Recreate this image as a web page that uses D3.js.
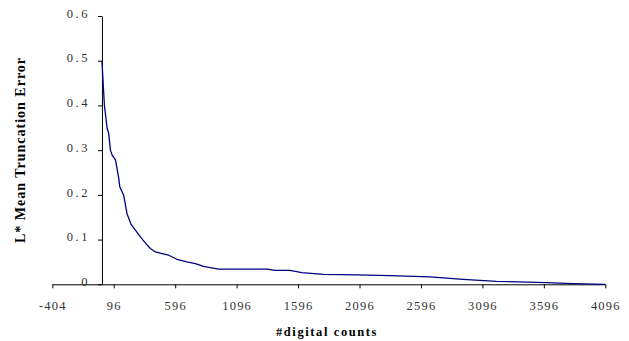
<!DOCTYPE html>
<html>
<head>
<meta charset="utf-8">
<script src="https://cdn.jsdelivr.net/npm/d3@7"></script>
<style>
  body { margin: 0; background: #fff; }
  svg { display: block; }
  svg text { font-family: "Liberation Serif", "Times New Roman", serif; }
</style>
</head>
<body>
<svg id="chart" width="629" height="341"></svg>
<script>
// digital counts (x) and L* mean truncation error (y)
const counts = [0, 20, 42, 55, 69, 83, 110, 137, 145, 177, 204, 237, 272, 313, 353, 394, 435, 489, 543, 611, 692, 760, 827, 949, 1206, 1342, 1409, 1531, 1626, 1802, 2073, 2344, 2669, 2939, 3210, 3617, 3833, 4096];
const errors = [0.5, 0.4, 0.349, 0.337, 0.30, 0.289, 0.278, 0.237, 0.218, 0.199, 0.158, 0.134, 0.121, 0.106, 0.0925, 0.080, 0.0724, 0.0687, 0.065, 0.056, 0.050, 0.046, 0.040, 0.034, 0.034, 0.034, 0.031, 0.031, 0.026, 0.022, 0.021, 0.0195, 0.0164, 0.0112, 0.0067, 0.0037, 0.0015, 0];

const xTicks = [-404, 96, 596, 1096, 1596, 2096, 2596, 3096, 3596, 4096];
const yTicks = [0, 0.1, 0.2, 0.3, 0.4, 0.5, 0.6];

const svg = d3.select("#chart");

const x = d3.scaleLinear().domain([-404, 4096]).range([52.3, 605.3]);
const y = d3.scaleLinear().domain([0, 0.6]).range([284.3, 16]);

// x axis (crosses at y = 0)
const xAxis = svg.append("g")
    .attr("transform", `translate(0,${y(0)})`)
    .call(d3.axisBottom(x).tickValues(xTicks).tickSize(4).tickSizeOuter(0).tickPadding(13)
        .tickFormat(d => d));
xAxis.attr("font-family", null);
xAxis.select(".domain").attr("stroke", "#000");
xAxis.selectAll(".tick line").attr("stroke", "#000");
xAxis.selectAll("text")
    .style("font-size", "12.5px")
    .style("letter-spacing", "1.2px")
    .attr("fill", "#333");

// y axis (crosses at x = 0)
const yAxis = svg.append("g")
    .attr("transform", `translate(${x(0)},0)`)
    .call(d3.axisLeft(y).tickValues(yTicks).tickSize(4).tickSizeOuter(0).tickPadding(8)
        .tickFormat(d => d === 0 ? "0" : d3.format(".1f")(d)));
yAxis.attr("font-family", null);
yAxis.select(".domain").attr("stroke", "#000");
yAxis.selectAll(".tick line").attr("stroke", "#000");
yAxis.selectAll("text")
    .style("font-size", "12.5px")
    .style("letter-spacing", "2.5px")
    .attr("fill", "#333")
    .attr("dy", "0.1em");

// the curve
const line = d3.line()
    .x((d, i) => x(counts[i]))
    .y(d => y(d));

svg.append("path")
    .datum(errors)
    .attr("fill", "none")
    .attr("stroke", "#000080")
    .attr("stroke-width", 1.3)
    .attr("stroke-linejoin", "round")
    .attr("d", line);

// axis titles
svg.append("text")
    .attr("x", 327)
    .attr("y", 336)
    .attr("text-anchor", "middle")
    .style("font-size", "12.5px")
    .style("font-weight", "bold")
    .style("letter-spacing", "1.6px")
    .attr("fill", "#000")
    .text("#digital counts");

svg.append("text")
    .attr("transform", "translate(25,150) rotate(-90)")
    .attr("text-anchor", "middle")
    .style("font-size", "14px")
    .style("font-weight", "bold")
    .style("letter-spacing", "1px")
    .attr("fill", "#000")
    .text("L* Mean Truncation Error");
</script>
</body>
</html>
